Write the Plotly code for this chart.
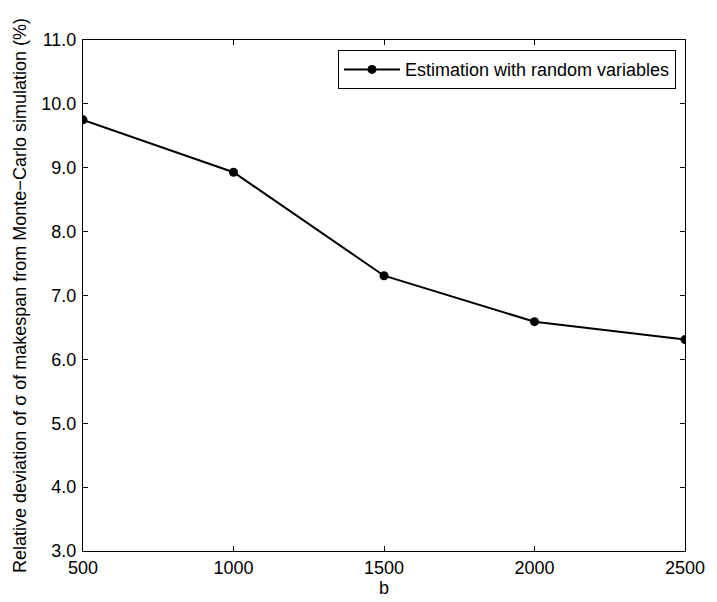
import plotly.graph_objects as go

b_values = [500, 1000, 1500, 2000, 2500]
rel_dev = [9.75, 8.93, 7.31, 6.59, 6.31]
y_ticks = [3, 4, 5, 6, 7, 8, 9, 10, 11]
y_tick_labels = ["3.0", "4.0", "5.0", "6.0", "7.0", "8.0", "9.0", "10.0", "11.0"]
x_ticks = [500, 1000, 1500, 2000, 2500]
series_name = "Estimation with random variables"

font_family = "Liberation Sans, Arial, Helvetica, sans-serif"
fs = 18

fig = go.Figure()
fig.add_trace(go.Scatter(
    x=b_values, y=rel_dev, mode="lines+markers", name=series_name,
    line=dict(color="black", width=2),
    marker=dict(color="black", size=9),
    showlegend=True,
))

fig.update_layout(
    width=717, height=602,
    margin=dict(l=83, r=24, t=40, b=50),
    paper_bgcolor="white", plot_bgcolor="white",
    font=dict(family=font_family, size=fs, color="black"),
    showlegend=True,
    legend=dict(
        x=0.985, y=0.98, xanchor="right", yanchor="top",
        bordercolor="black", borderwidth=1, bgcolor="white",
        font=dict(size=fs, family=font_family),
        tracegroupgap=0, itemwidth=56,
    ),
    xaxis=dict(
        range=[500, 2500], tickvals=x_ticks, ticktext=[str(v) for v in x_ticks],
        ticks="inside", ticklen=5, tickcolor="black", tickwidth=1,
        showline=True, linecolor="black", linewidth=1, mirror="ticks",
        showgrid=False, zeroline=False,
        title=dict(text="b", standoff=0, font=dict(size=fs)),
        tickfont=dict(size=fs),
    ),
    yaxis=dict(
        range=[3, 11], tickvals=y_ticks, ticktext=y_tick_labels,
        ticks="inside", ticklen=5, tickcolor="black", tickwidth=1,
        showline=True, linecolor="black", linewidth=1, mirror="ticks",
        showgrid=False, zeroline=False,
        ticklabelstandoff=2,
        title=dict(text="Relative deviation of σ of makespan from Monte−Carlo simulation (%)",
                   standoff=10, font=dict(size=fs)),
        tickfont=dict(size=fs),
    ),
)

fig.write_html("out.html")
